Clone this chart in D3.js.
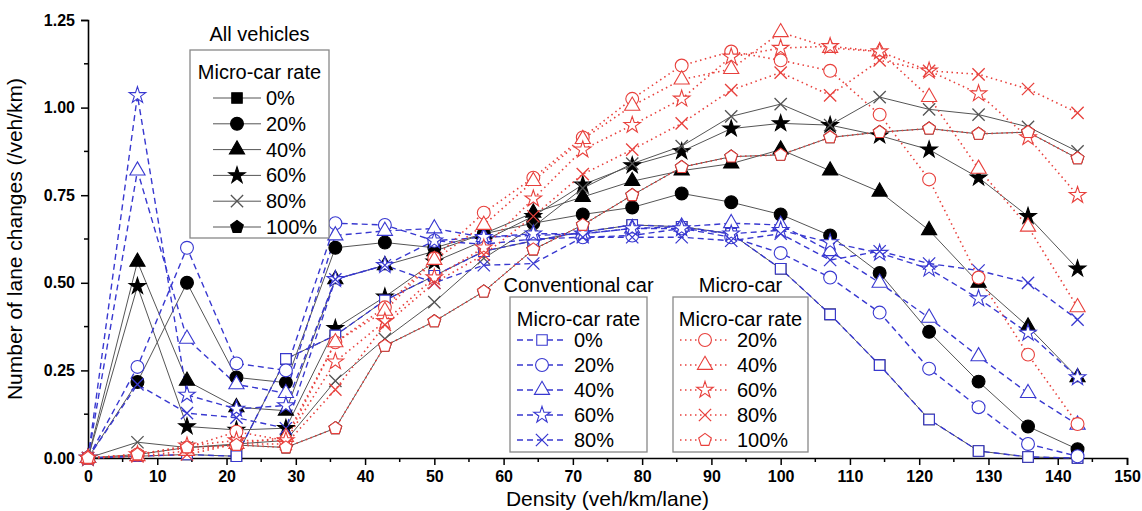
<!DOCTYPE html>
<html>
<head>
<meta charset="utf-8">
<script src="https://cdn.jsdelivr.net/npm/d3@7"></script>
<style>
  body { margin: 0; background: #fff; }
  text { font-family: Arial, "Liberation Sans", sans-serif; }
</style>
</head>
<body>
<div id="app"></div>
<script>
// density (veh/km/lane)
const density = [0, 7.14, 14.29, 21.43, 28.57, 35.71, 42.86, 50, 57.14, 64.29, 71.43, 78.57, 85.71, 92.86, 100, 107.14, 114.29, 121.43, 128.57, 135.71, 142.86];

// conventional car, by micro-car rate
const conv0  = [0, 0.005, 0.01, 0.005, 0.283, 0.35, 0.45, 0.52, 0.59, 0.62, 0.645, 0.665, 0.66, 0.64, 0.54, 0.41, 0.265, 0.11, 0.02, 0.003, 0];
const conv20 = [0, 0.26, 0.60, 0.27, 0.25, 0.67, 0.665, 0.62, 0.61, 0.625, 0.63, 0.635, 0.655, 0.63, 0.585, 0.515, 0.415, 0.255, 0.145, 0.04, 0.005];
const conv40 = [0, 0.82, 0.34, 0.21, 0.185, 0.635, 0.648, 0.655, 0.63, 0.635, 0.64, 0.655, 0.66, 0.67, 0.665, 0.59, 0.50, 0.40, 0.29, 0.185, 0.095];
const conv60 = [0, 1.035, 0.18, 0.14, 0.15, 0.51, 0.55, 0.62, 0.63, 0.64, 0.64, 0.655, 0.655, 0.64, 0.65, 0.615, 0.585, 0.54, 0.455, 0.357, 0.23];
const conv80 = [0, 0.21, 0.128, 0.115, 0.085, 0.51, 0.55, 0.50, 0.55, 0.555, 0.63, 0.63, 0.63, 0.62, 0.64, 0.565, 0.59, 0.555, 0.535, 0.50, 0.395];

// micro-car, by micro-car rate
const micro20  = [0, 0.01, 0.03, 0.075, 0.05, 0.33, 0.43, 0.57, 0.70, 0.80, 0.915, 1.025, 1.12, 1.16, 1.135, 1.105, 0.98, 0.795, 0.515, 0.295, 0.097];
const micro40  = [0, 0.005, 0.02, 0.04, 0.06, 0.33, 0.42, 0.565, 0.665, 0.79, 0.91, 1.005, 1.08, 1.11, 1.215, 1.17, 1.16, 1.03, 0.825, 0.66, 0.43];
const micro60  = [0, 0.01, 0.035, 0.05, 0.05, 0.275, 0.39, 0.515, 0.60, 0.74, 0.88, 0.95, 1.025, 1.145, 1.17, 1.175, 1.16, 1.105, 1.04, 0.915, 0.75];
const micro80  = [0, 0.005, 0.01, 0.04, 0.04, 0.195, 0.38, 0.50, 0.58, 0.69, 0.81, 0.88, 0.955, 1.05, 1.10, 1.035, 1.135, 1.105, 1.095, 1.053, 0.985];
const micro100 = [0, 0.01, 0.03, 0.037, 0.03, 0.085, 0.32, 0.39, 0.475, 0.595, 0.665, 0.75, 0.83, 0.86, 0.865, 0.915, 0.93, 0.94, 0.925, 0.93, 0.855];

// all vehicles, by micro-car rate (0% = conventional only, 100% = micro-car only)
const all0   = conv0;
const all20  = [0, 0.217, 0.50, 0.23, 0.215, 0.60, 0.615, 0.60, 0.64, 0.67, 0.695, 0.715, 0.755, 0.73, 0.695, 0.635, 0.528, 0.36, 0.218, 0.09, 0.025];
const all40  = [0, 0.56, 0.22, 0.145, 0.135, 0.51, 0.55, 0.59, 0.64, 0.70, 0.745, 0.79, 0.82, 0.84, 0.88, 0.82, 0.76, 0.65, 0.50, 0.375, 0.23];
const all60  = [0, 0.49, 0.09, 0.08, 0.085, 0.37, 0.46, 0.56, 0.62, 0.69, 0.78, 0.835, 0.875, 0.94, 0.955, 0.95, 0.92, 0.88, 0.80, 0.69, 0.54];
const all80  = [0, 0.045, 0.03, 0.04, 0.05, 0.22, 0.34, 0.445, 0.57, 0.66, 0.77, 0.84, 0.89, 0.975, 1.01, 0.95, 1.03, 0.995, 0.98, 0.945, 0.875];
const all100 = micro100;

const xTicks = d3.range(0, 151, 10);
const yTicks = [0, 0.25, 0.5, 0.75, 1.0, 1.25];

const width = 1142, height = 511;
const margin = { left: 88, right: 15, top: 20, bottom: 53 };

const svg = d3.select("#app").append("svg")
    .attr("width", width)
    .attr("height", height);

svg.append("rect").attr("width", width).attr("height", height).attr("fill", "#fff");

const x = d3.scaleLinear().domain([0, 150]).range([margin.left, width - margin.right]);
const y = d3.scaleLinear().domain([0, 1.25]).range([height - margin.bottom, margin.top]);

// custom symbols
const symX = {
    draw(ctx, size) {
        const r = Math.sqrt(size) / 2;
        ctx.moveTo(-r, -r); ctx.lineTo(r, r);
        ctx.moveTo(r, -r); ctx.lineTo(-r, r);
    }
};
const symPentagon = {
    draw(ctx, size) {
        const r = Math.sqrt(size) * 0.62;
        for (let k = 0; k < 5; k++) {
            const a = -Math.PI / 2 + k * 2 * Math.PI / 5;
            if (k === 0) ctx.moveTo(r * Math.cos(a), r * Math.sin(a));
            else ctx.lineTo(r * Math.cos(a), r * Math.sin(a));
        }
        ctx.closePath();
    }
};

const shapes = {
    square:   { type: d3.symbolSquare,   size: 110 },
    circle:   { type: d3.symbolCircle,   size: 130 },
    triangle: { type: d3.symbolTriangle, size: 100 },
    star:     { type: d3.symbolStar,     size: 85 },
    x:        { type: symX,              size: 150 },
    pentagon: { type: symPentagon,       size: 115 }
};

const BLUE = "#3838d0", RED = "#e8403c", GRAY = "#555";

const styles = {
    all:   { stroke: GRAY, width: 1, dash: null, fill: "#000", mstroke: "#000" },
    conv:  { stroke: BLUE, width: 1.4, dash: "6,4", fill: "#fff", mstroke: BLUE },
    micro: { stroke: RED, width: 1.6, dash: "1.5,3.5", fill: "#fff", mstroke: RED }
};

const groups = [
    { style: "all", series: [
        { label: "0%", shape: "square", values: all0 },
        { label: "20%", shape: "circle", values: all20 },
        { label: "40%", shape: "triangle", values: all40 },
        { label: "60%", shape: "star", values: all60 },
        { label: "80%", shape: "x", values: all80 },
        { label: "100%", shape: "pentagon", values: all100 }
    ]},
    { style: "conv", series: [
        { label: "0%", shape: "square", values: conv0 },
        { label: "20%", shape: "circle", values: conv20 },
        { label: "40%", shape: "triangle", values: conv40 },
        { label: "60%", shape: "star", values: conv60 },
        { label: "80%", shape: "x", values: conv80 }
    ]},
    { style: "micro", series: [
        { label: "20%", shape: "circle", values: micro20 },
        { label: "40%", shape: "triangle", values: micro40 },
        { label: "60%", shape: "star", values: micro60 },
        { label: "80%", shape: "x", values: micro80 },
        { label: "100%", shape: "pentagon", values: micro100 }
    ]}
];

function markerAttrs(sel, st, shape) {
    const s = shapes[shape];
    sel.attr("d", d3.symbol().type(s.type).size(s.size)())
        .attr("fill", shape === "x" ? "none" : st.fill)
        .attr("stroke", shape === "x" && st.fill === "#000" ? GRAY : st.mstroke)
        .attr("stroke-width", shape === "x" ? 1.3 : 1.1);
}

// axes
const xAxis = svg.append("g")
    .attr("transform", `translate(0,${y(0)})`)
    .call(d3.axisBottom(x).tickValues(xTicks).tickSize(7).tickPadding(6).tickFormat(d3.format("d")));
xAxis.append("g").selectAll("line")
    .data(d3.range(5, 150, 10))
    .join("line")
    .attr("x1", d => x(d)).attr("x2", d => x(d))
    .attr("y1", 0).attr("y2", 4)
    .attr("stroke", "#000").attr("stroke-width", 1.5);

const yAxis = svg.append("g")
    .attr("transform", `translate(${x(0)},0)`)
    .call(d3.axisLeft(y).tickValues(yTicks).tickSize(7).tickPadding(6).tickFormat(d3.format(".2f")));
yAxis.append("g").selectAll("line")
    .data(d3.range(0.125, 1.25, 0.25))
    .join("line")
    .attr("y1", d => y(d)).attr("y2", d => y(d))
    .attr("x1", 0).attr("x2", -4)
    .attr("stroke", "#000").attr("stroke-width", 1.5);

svg.selectAll(".domain").attr("stroke", "#000").attr("stroke-width", 1.6);
svg.selectAll(".tick line").attr("stroke", "#000").attr("stroke-width", 1.5);
svg.selectAll(".tick text")
    .style("font-family", "Arial, 'Liberation Sans', sans-serif")
    .style("font-size", "16px")
    .style("font-weight", "bold")
    .attr("fill", "#000");

svg.append("text")
    .attr("x", (x(0) + x(150)) / 2)
    .attr("y", 506)
    .attr("text-anchor", "middle")
    .style("font-size", "21px")
    .text("Density (veh/km/lane)");

svg.append("text")
    .attr("transform", `translate(22,${y(0.625)}) rotate(-90)`)
    .attr("text-anchor", "middle")
    .style("font-size", "21px")
    .text("Number of lane changes (/veh/km)");

// lines and markers
const line = d3.line().x((d, i) => x(density[i])).y(d => y(d));

groups.forEach(g => {
    const st = styles[g.style];
    g.series.forEach(s => {
        svg.append("path")
            .datum(s.values)
            .attr("d", line)
            .attr("fill", "none")
            .attr("stroke", st.stroke)
            .attr("stroke-width", st.width)
            .attr("stroke-dasharray", st.dash);
    });
});
groups.forEach(g => {
    const st = styles[g.style];
    g.series.forEach(s => {
        svg.append("g").selectAll("path")
            .data(s.values)
            .join("path")
            .attr("transform", (d, i) => `translate(${x(density[i])},${y(d)})`)
            .call(markerAttrs, st, s.shape);
    });
});

// legends
function legend(group, title, box, textX) {
    const st = styles[group.style];
    const lg = svg.append("g");
    lg.append("text")
        .attr("x", (box.x0 + box.x1) / 2).attr("y", box.titleY)
        .attr("text-anchor", "middle").style("font-size", "20px")
        .text(title);
    lg.append("rect")
        .attr("x", box.x0).attr("y", box.y0)
        .attr("width", box.x1 - box.x0).attr("height", box.y1 - box.y0)
        .attr("fill", "#fff").attr("stroke", "#888").attr("stroke-width", 1.3);
    lg.append("text")
        .attr("x", (box.x0 + box.x1) / 2).attr("y", box.y0 + 29)
        .attr("text-anchor", "middle").style("font-size", "20px")
        .text("Micro-car rate");
    group.series.forEach((s, i) => {
        const cy = box.firstY + i * box.step;
        lg.append("line")
            .attr("x1", box.lx0).attr("x2", box.lx1).attr("y1", cy).attr("y2", cy)
            .attr("stroke", st.stroke).attr("stroke-width", st.width)
            .attr("stroke-dasharray", st.dash);
        lg.append("path")
            .attr("transform", `translate(${(box.lx0 + box.lx1) / 2},${cy})`)
            .call(markerAttrs, st, s.shape);
        lg.append("text")
            .attr("x", textX).attr("y", cy + 7)
            .style("font-size", "20px")
            .text(s.label);
    });
}

legend(groups[0], "All vehicles",
    { x0: 190, x1: 329, y0: 50, y1: 238, titleY: 41, firstY: 98, step: 25.8, lx0: 213, lx1: 261 }, 266);
legend(groups[1], "Conventional car",
    { x0: 510, x1: 647, y0: 297, y1: 452, titleY: 292, firstY: 340, step: 25, lx0: 517, lx1: 567 }, 574);
legend(groups[2], "Micro-car",
    { x0: 673, x1: 808, y0: 297, y1: 452, titleY: 292, firstY: 340, step: 25, lx0: 680, lx1: 730 }, 737);
</script>
</body>
</html>
